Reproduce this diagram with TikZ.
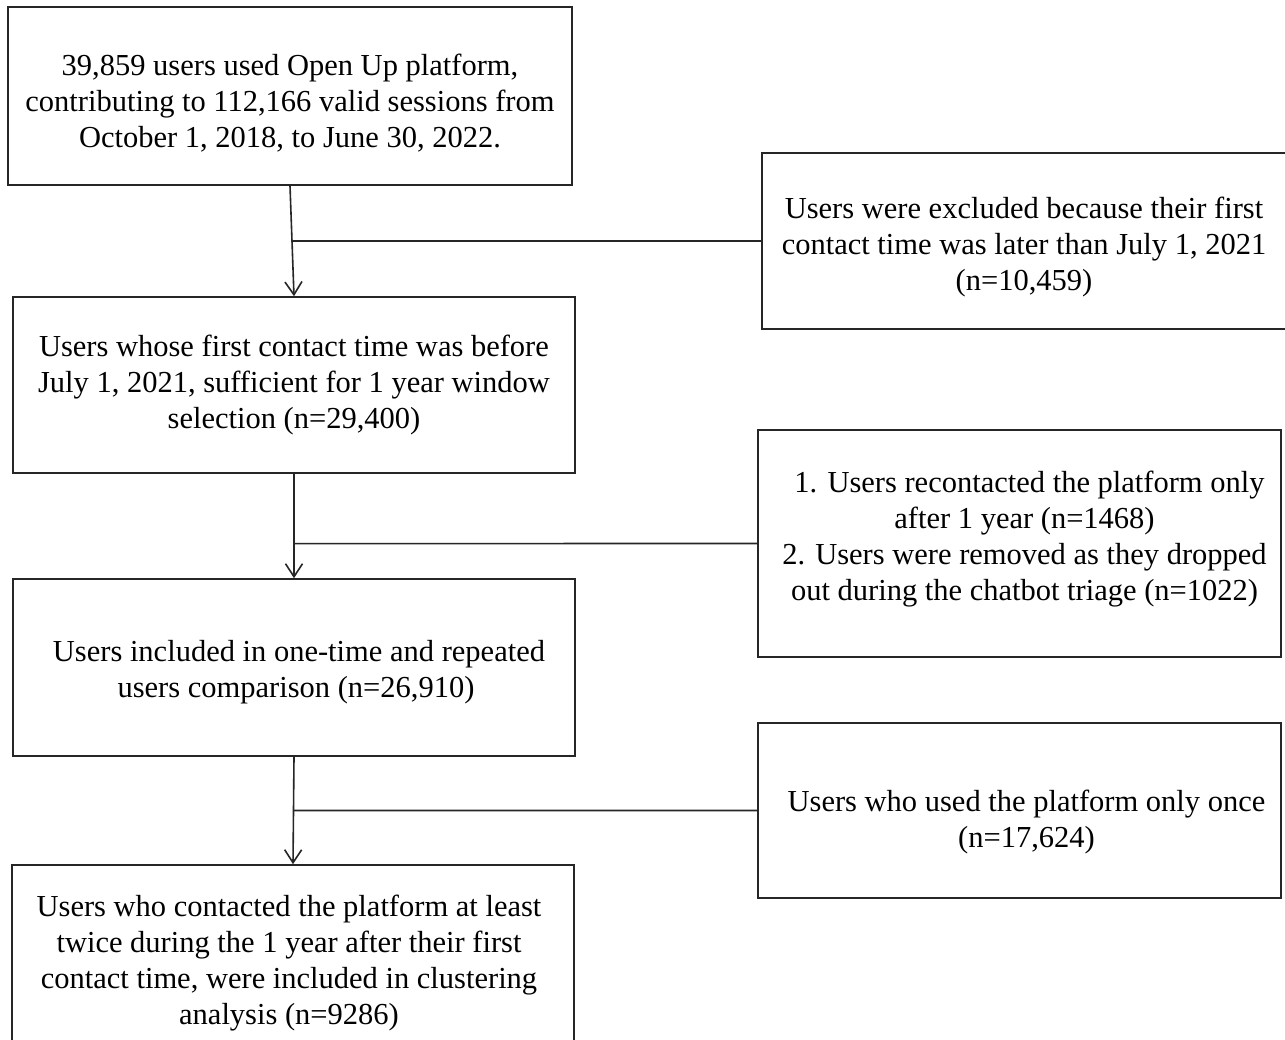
\documentclass[tikz,border=0pt]{standalone}
\usepackage{fontspec}
\setmainfont{Liberation Serif}
\usetikzlibrary{arrows.meta,calc}
\begin{document}
\begin{tikzpicture}[x=1pt,y=-1pt,
  box/.style={draw=black!85, line width=1.6pt, rectangle, inner sep=0pt},
  txt/.style={inner sep=0pt, align=center, font=\fontsize{30.5}{36}\selectfont},
  conn/.style={draw=black!85, line width=1.6pt},
  arr/.style={conn, -{Straight Barb[length=13pt,width=17pt,line width=1.6pt]}}]
\useasboundingbox (0,0) rectangle (1285,1039);
\fill[white] (0,0) rectangle (1285,1039);
\node[box, minimum width=564, minimum height=178,
  label={[txt, name=b1t, yshift=-7pt]center:{39,859 users used Open Up platform,\\contributing to 112,166 valid sessions from\\October 1, 2018, to June 30, 2022.}}] (b1) at (290,96) {};
\node[box, minimum width=562, minimum height=176,
  label={[txt, name=b2t]center:{Users whose first contact time was before\\July 1, 2021, sufficient for 1 year window\\selection (n=29,400)}}] (b2) at (294,385) {};
\node[box, minimum width=562, minimum height=177,
  label={[txt, name=b3t, yshift=-5pt, xshift=2pt]center:{\hspace*{6pt}Users included in one-time and repeated\\users comparison (n=26,910)}}] (b3) at (294,667.5) {};
\node[box, minimum width=562, minimum height=190,
  label={[txt, name=b4t, yshift=-3pt, xshift=-4pt]center:{Users who contacted the platform at least\\twice during the 1 year after their first\\contact time, were included in clustering\\analysis (n=9286)}}] (b4) at (293,960) {};
\node[box, minimum width=524, minimum height=176,
  label={[txt, name=r1t, yshift=-6pt]center:{Users were excluded because their first\\contact time was later than July 1, 2021\\(n=10,459)}}] (r1) at (1024,241) {};
\node[box, minimum width=523, minimum height=227,
  label={[txt, name=r2t, yshift=4pt, xshift=5pt]center:{\hspace*{10pt}1. Users recontacted the platform only\\after 1 year (n=1468)\\2. Users were removed as they dropped\\out during the chatbot triage (n=1022)}}] (r2) at (1019.5,543.5) {};
\node[box, minimum width=523, minimum height=175,
  label={[txt, name=r3t, yshift=-11pt, xshift=7pt]center:{Users who used the platform only once\\(n=17,624)}}] (r3) at (1019.5,810.5) {};
\draw[arr] (b1.south) -- (b2.north);
\draw[arr] (b2.south) -- (b3.north);
\draw[arr] (b3.south) -- (b4.north);
\draw[conn] (r1.west) -- (intersection of b1.south--b2.north and r1.west--r1.east);
\draw[conn] (r2.west) -- (intersection of b2.south--b3.north and r2.west--r2.east);
\draw[conn] (r3.west) -- (intersection of b3.south--b4.north and r3.west--r3.east);
\end{tikzpicture}
\end{document}
